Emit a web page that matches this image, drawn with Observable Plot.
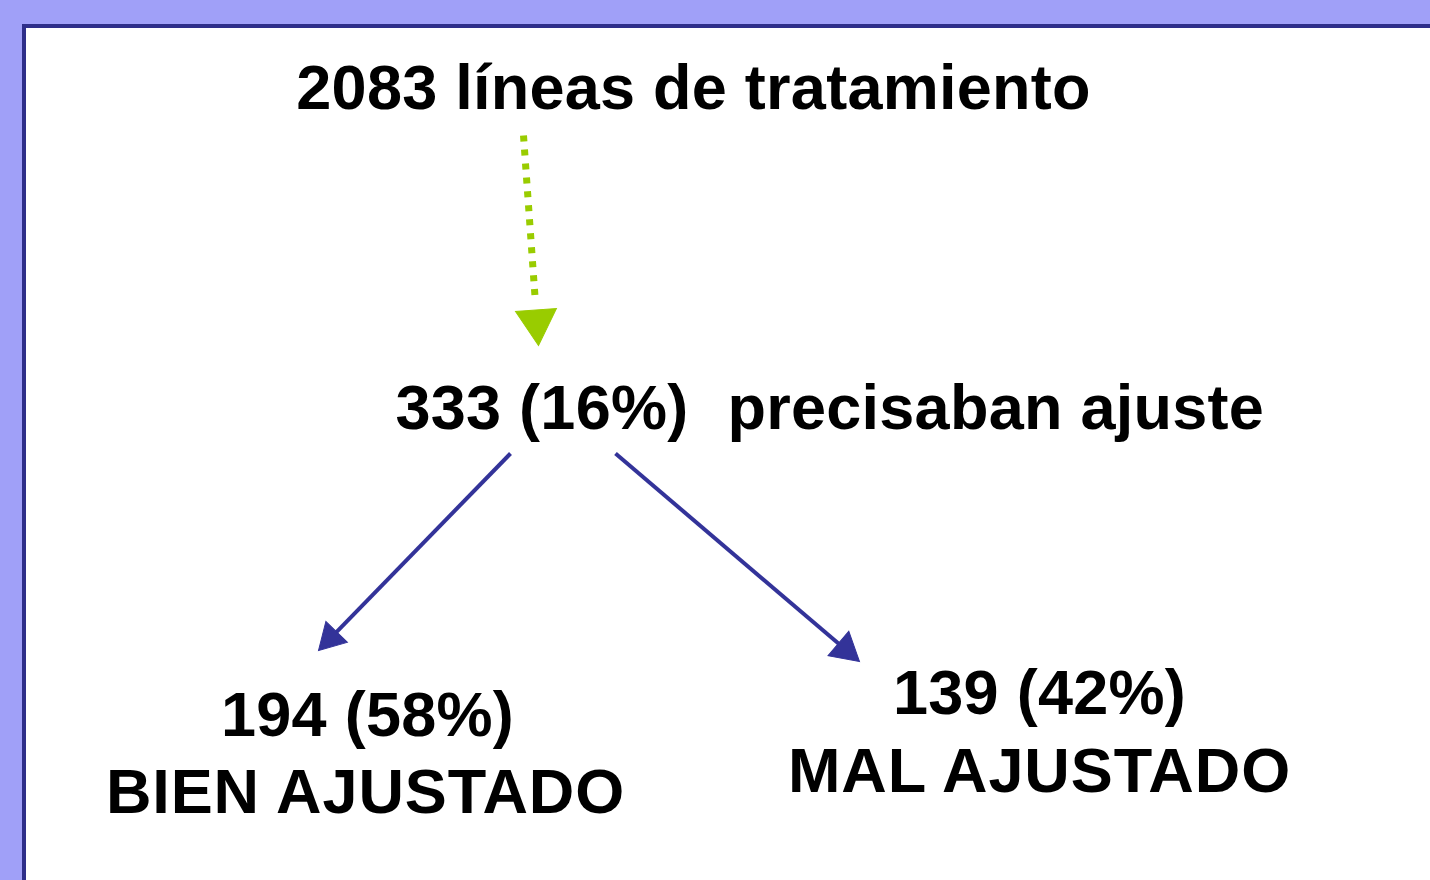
<!DOCTYPE html>
<html>
<head>
<meta charset="utf-8">
<script src="https://cdn.jsdelivr.net/npm/d3@7"></script>
<script src="https://cdn.jsdelivr.net/npm/@observablehq/plot@0.6"></script>
<style>
  html, body { margin: 0; padding: 0; background: #a0a0f8; }
  #chart svg { display: block; }
  #chart .lbl-tight text { letter-spacing: 0.25px; }
  #chart .lbl-wide text { letter-spacing: 0.9px; }
</style>
</head>
<body>
<div id="chart"></div>
<script>
// ---- data ----
const totalLines = 2083;
const totalLabel = "líneas de tratamiento";
const counts = [333, 194, 139];
const percents = [16, 58, 42];
const outcomeLabels = ["precisaban ajuste", "BIEN AJUSTADO", "MAL AJUSTADO"];

// ---- layout (pixel positions of the diagram pieces) ----
const panel = [{x1: 24, y1: 26, x2: 1460, y2: 910}];
const textLayout = [
  {x: 693, y: 108, anchor: "middle", spacing: "tight"},   // total
  {x: 395, y: 428, anchor: "start", spacing: "tight"},    // 333 (16%)
  {x: 727, y: 428, anchor: "start", spacing: "tight"},    // precisaban ajuste
  {x: 367, y: 735, anchor: "middle", spacing: "tight"},   // 194 (58%)
  {x: 365, y: 812, anchor: "middle", spacing: "wide"},    // BIEN AJUSTADO
  {x: 1039, y: 713, anchor: "middle", spacing: "tight"},  // 139 (42%)
  {x: 1039, y: 791, anchor: "middle", spacing: "wide"}    // MAL AJUSTADO
];
const arrowLayout = [
  {x1: 523, y1: 135, x2: 538, y2: 345, color: "#99cc00", width: 7, dash: "6,8", side: 41, stopBefore: 44},
  {x1: 510, y1: 453, x2: 318, y2: 650, color: "#333399", width: 4, dash: null, side: 30, stopBefore: 18},
  {x1: 615, y1: 453, x2: 859, y2: 661, color: "#333399", width: 4, dash: null, side: 32, stopBefore: 18}
];

// ---- build records ----
const texts = [
  `${totalLines} ${totalLabel}`,
  `${counts[0]} (${percents[0]}%)`,
  outcomeLabels[0],
  `${counts[1]} (${percents[1]}%)`,
  outcomeLabels[1],
  `${counts[2]} (${percents[2]}%)`,
  outcomeLabels[2]
].map((t, i) => ({text: t, ...textLayout[i]}));

const shafts = arrowLayout.map(a => {
  const dx = a.x2 - a.x1, dy = a.y2 - a.y1, L = Math.hypot(dx, dy);
  const ux = dx / L, uy = dy / L;
  return {...a, ex: a.x2 - ux * a.stopBefore, ey: a.y2 - uy * a.stopBefore};
});
const heads = arrowLayout.map(a => {
  const dx = a.x2 - a.x1, dy = a.y2 - a.y1, L = Math.hypot(dx, dy);
  const ux = dx / L, uy = dy / L;
  const h = a.side * Math.sqrt(3) / 2;
  const area = Math.sqrt(3) / 4 * a.side * a.side;
  return {
    cx: a.x2 - ux * (2 * h / 3),
    cy: a.y2 - uy * (2 * h / 3),
    r: Math.sqrt(area / Math.PI),
    rot: Math.atan2(dx, -dy) * 180 / Math.PI,
    color: a.color
  };
});

const font = "'Liberation Sans', Arial, Helvetica, sans-serif";

const marks = [
  Plot.rect(panel, {x1: "x1", y1: "y1", x2: "x2", y2: "y2", fill: "white", stroke: "#2e2e8a", strokeWidth: 4})
];
for (const s of shafts) {
  marks.push(Plot.link([s], {
    x1: "x1", y1: "y1", x2: "ex", y2: "ey",
    stroke: s.color, strokeWidth: s.width,
    strokeDasharray: s.dash ?? undefined
  }));
}
marks.push(Plot.dot(heads, {
  x: "cx", y: "cy", r: "r", rotate: "rot", symbol: "triangle",
  fill: "color", stroke: "color", strokeWidth: 1
}));
for (const anchor of ["middle", "start"]) {
  for (const spacing of ["tight", "wide"]) {
    const subset = texts.filter(d => d.anchor === anchor && d.spacing === spacing);
    if (!subset.length) continue;
    marks.push(Plot.text(subset, {
      x: "x", y: "y", text: "text", textAnchor: anchor, lineAnchor: "bottom",
      fontSize: 63, fontWeight: "bold", fill: "black", className: `lbl-${spacing}`
    }));
  }
}

const chart = Plot.plot({
  width: 1430,
  height: 880,
  margin: 0,
  x: {type: "identity", axis: null},
  y: {type: "identity", axis: null},
  r: {type: "identity"},
  color: {type: "identity"},
  style: {background: "#a0a0f8", fontFamily: font, overflow: "hidden"},
  marks
});
document.getElementById("chart").appendChild(chart);
</script>
</body>
</html>
